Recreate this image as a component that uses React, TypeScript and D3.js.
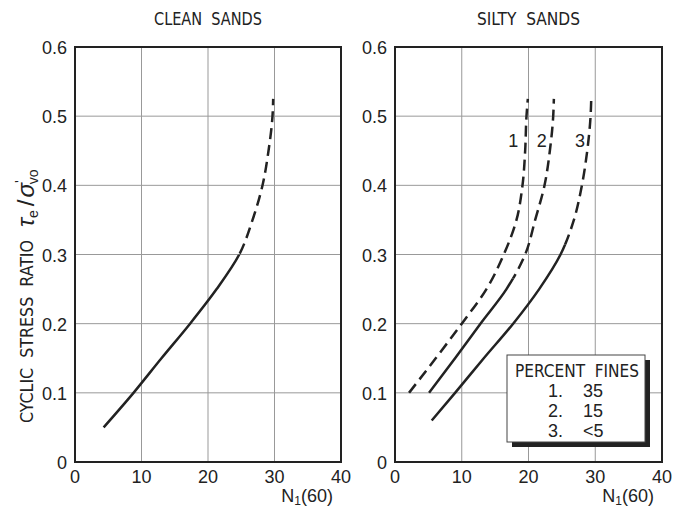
import React from "react";
import * as d3 from "d3";

type P = [number, number];

const xTicks = [0, 10, 20, 30, 40];
const yTicks = [0, 0.1, 0.2, 0.3, 0.4, 0.5, 0.6];
const yTickLabels = ["0", "0.1", "0.2", "0.3", "0.4", "0.5", "0.6"];
const panelTitles = ["CLEAN\u00A0\u00A0SANDS", "SILTY\u00A0\u00A0SANDS"];

// Clean sands (solid below the split value, dashed above)
const cleanCurve: P[] = [[4.3, 0.05], [8.8, 0.1], [13.0, 0.15], [17.3, 0.2], [21.3, 0.25], [24.7, 0.3], [26.7, 0.35], [28.2, 0.4], [29.1, 0.45], [29.7, 0.5], [29.8, 0.525]];
const cleanSplit = 0.3;

// Silty sands
const silty1Curve: P[] = [[2.1, 0.1], [6.1, 0.15], [10.0, 0.2], [13.7, 0.25], [16.3, 0.3], [18.2, 0.35], [19.1, 0.4], [19.5, 0.45], [19.7, 0.5], [19.9, 0.525]];
const silty1Split = 0.0;
const silty2Curve: P[] = [[5.1, 0.1], [9.0, 0.15], [12.8, 0.2], [16.7, 0.25], [19.5, 0.3], [21.0, 0.35], [22.4, 0.4], [23.2, 0.45], [23.7, 0.5], [23.8, 0.525]];
const silty2Split = 0.265;
const silty3Curve: P[] = [[5.5, 0.06], [9.0, 0.1], [13.3, 0.15], [17.7, 0.2], [21.6, 0.25], [24.8, 0.3], [26.8, 0.35], [28.0, 0.4], [28.8, 0.45], [29.3, 0.5], [29.4, 0.525]];
const silty3Split = 0.315;

const curveLabels = ["1", "2", "3"];
const curveLabelPos: P[] = [[17.7, 0.455], [22.0, 0.455], [27.7, 0.455]];

const legendTitle = "PERCENT\u00A0\u00A0FINES";
const legendNums = ["1.", "2.", "3."];
const legendVals = ["35", "15", "<5"];

const NARROW = "'Liberation Sans Narrow', 'DejaVu Sans Condensed', 'Arial Narrow', sans-serif";
const REG = "'Liberation Sans', Arial, sans-serif";
const INK = "#222";

const W = 675;
const H = 510;
const yScale = d3.scaleLinear().domain([0, 0.6]).range([462, 47]);

type Curve = { pts: P[]; split: number };

function Panel({ id, x0, x1, title, titleLen, curves, labels }: {
  id: string; x0: number; x1: number; title: string; titleLen: number; curves: Curve[]; labels: boolean;
}) {
  const x = d3.scaleLinear().domain([0, 40]).range([x0, x1]);
  const line = d3.line<P>().x((d) => x(d[0])).y((d) => yScale(d[1])).curve(d3.curveMonotoneY);
  const [yb, yt] = yScale.range();
  return (
    <g>
      <defs>
        {curves.map((c, i) => (
          <React.Fragment key={"cp" + i}>
            <clipPath id={`${id}-solid-${i}`}>
              <rect x={x0} y={yScale(c.split)} width={x1 - x0} height={Math.max(0, yb - yScale(c.split))} />
            </clipPath>
            <clipPath id={`${id}-dash-${i}`}>
              <rect x={x0} y={0} width={x1 - x0} height={yScale(c.split)} />
            </clipPath>
          </React.Fragment>
        ))}
      </defs>
      <text x={(x0 + x1) / 2} y={25} textAnchor="middle" fontFamily={NARROW} fontSize={18} fill={INK}
        textLength={titleLen} lengthAdjust="spacingAndGlyphs">{title}</text>
      {xTicks.slice(1, -1).map((t) => (
        <line key={"gx" + t} x1={x(t)} x2={x(t)} y1={yb} y2={yt} stroke="#999" strokeWidth={1} />
      ))}
      {yTicks.slice(1, -1).map((t) => (
        <line key={"gy" + t} x1={x0} x2={x1} y1={yScale(t)} y2={yScale(t)} stroke="#999" strokeWidth={1} />
      ))}
      <rect x={x0} y={yt} width={x1 - x0} height={yb - yt} fill="none" stroke={INK} strokeWidth={2} />
      {xTicks.map((t) => (
        <text key={"tx" + t} x={x(t)} y={483} textAnchor="middle" fontFamily={REG} fontSize={18} fill={INK}>{t}</text>
      ))}
      {yTicks.map((t, i) => (
        <text key={"ty" + t} x={x0 - 8} y={yScale(t) + 7} textAnchor="end" fontFamily={REG} fontSize={18} fill={INK}>{yTickLabels[i]}</text>
      ))}
      <text x={x1 - 8} y={502} textAnchor="end" fontFamily={REG} fontSize={18} fill={INK}>
        N<tspan fontSize={12} dy={3}>1</tspan><tspan dy={-3}>(60)</tspan>
      </text>
      {curves.map((c, i) => (
        <g key={"c" + i}>
          <path d={line(c.pts) || ""} fill="none" stroke={INK} strokeWidth={2.5} clipPath={`url(#${id}-solid-${i})`} />
          <path d={line(c.pts) || ""} fill="none" stroke={INK} strokeWidth={2.5} strokeDasharray="11,6" clipPath={`url(#${id}-dash-${i})`} />
        </g>
      ))}
      {labels && curveLabels.map((l, i) => (
        <text key={"cl" + i} x={x(curveLabelPos[i][0])} y={yScale(curveLabelPos[i][1])} textAnchor="middle" fontFamily={REG} fontSize={18} fill={INK}>{l}</text>
      ))}
    </g>
  );
}

export default function App() {
  return (
    <svg width={W} height={H} style={{ position: "absolute", left: 0, top: 0, background: "#fff" }}>
      <rect width={W} height={H} fill="#fff" />
      <Panel id="clean" x0={75} x1={341} title={panelTitles[0]} titleLen={108}
        curves={[{ pts: cleanCurve, split: cleanSplit }]} labels={false} />
      <Panel id="silty" x0={395} x1={662} title={panelTitles[1]} titleLen={103}
        curves={[
          { pts: silty1Curve, split: silty1Split },
          { pts: silty2Curve, split: silty2Split },
          { pts: silty3Curve, split: silty3Split },
        ]} labels={true} />
      {/* y axis title */}
      <text transform="translate(33,423) rotate(-90)" fontFamily={NARROW} fontSize={18} fill={INK}
        textLength={183} lengthAdjust="spacingAndGlyphs">
        {"CYCLIC\u00A0\u00A0STRESS\u00A0\u00A0RATIO"}
      </text>
      <text transform="translate(34,227) rotate(-90)" fontFamily={REG} fontSize={24} fill={INK}>
        <tspan fontStyle="italic">τ</tspan><tspan fontSize={14} dy={4}>e</tspan><tspan dy={-4} dx={4}>/</tspan><tspan dx={2} fontStyle="italic">σ</tspan><tspan fontSize={15} dy={-9}>'</tspan><tspan fontSize={14} dy={13} dx={-4}>vo</tspan>
      </text>
      {/* legend */}
      <rect x={512} y={360} width={138} height={87} fill={INK} />
      <rect x={507} y={355} width={138} height={87} fill="#fff" stroke="#444" strokeWidth={1} />
      <text x={577} y={377} textAnchor="middle" fontFamily={NARROW} fontSize={18} fill={INK}
        textLength={124} lengthAdjust="spacingAndGlyphs">{legendTitle}</text>
      {legendNums.map((n, i) => (
        <g key={"lg" + i}>
          <text x={548} y={397 + i * 20} fontFamily={REG} fontSize={18} fill={INK}>{n}</text>
          <text x={583} y={397 + i * 20} fontFamily={REG} fontSize={18} fill={INK}>{legendVals[i]}</text>
        </g>
      ))}
    </svg>
  );
}
